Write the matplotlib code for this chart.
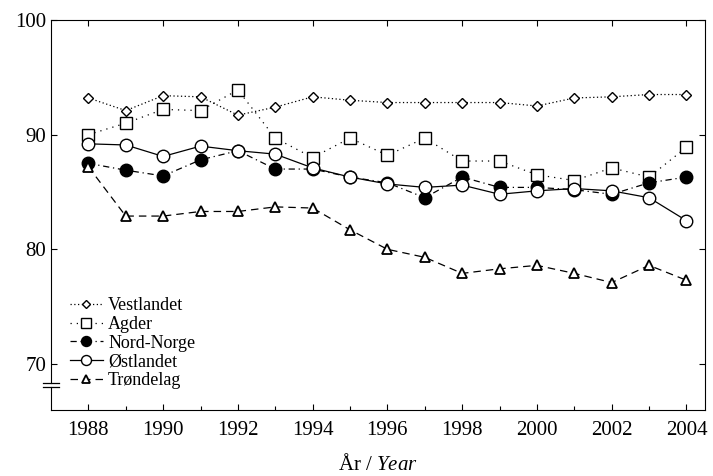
import matplotlib
matplotlib.use("Agg")
import matplotlib.pyplot as plt

years = list(range(1988, 2005))
vestlandet = [93.2, 92.1, 93.4, 93.3, 91.7, 92.4, 93.3, 93.0, 92.8, 92.8, 92.8, 92.8, 92.5, 93.2, 93.3, 93.5, 93.5]
agder = [90.0, 91.0, 92.2, 92.1, 93.9, 89.7, 88.0, 89.7, 88.2, 89.7, 87.7, 87.7, 86.5, 86.0, 87.1, 86.3, 88.9]
nord_norge = [87.5, 86.9, 86.4, 87.8, 88.6, 87.0, 87.0, 86.3, 85.8, 84.5, 86.3, 85.4, 85.4, 85.2, 84.8, 85.8, 86.3]
ostlandet = [89.2, 89.1, 88.1, 89.0, 88.6, 88.3, 87.1, 86.3, 85.7, 85.4, 85.6, 84.8, 85.1, 85.3, 85.1, 84.5, 82.5]
trondelag = [87.2, 82.9, 82.9, 83.3, 83.3, 83.7, 83.6, 81.7, 80.0, 79.3, 77.9, 78.3, 78.6, 77.9, 77.1, 78.6, 77.3]

plt.rcParams['font.family'] = ['Liberation Serif', 'DejaVu Serif']
plt.rcParams['mathtext.fontset'] = 'custom'
plt.rcParams['mathtext.it'] = 'Liberation Serif:italic'
plt.rcParams['mathtext.rm'] = 'Liberation Serif'

fig = plt.figure(figsize=(7.13, 4.76), dpi=100)
ax = fig.add_axes([0.0715, 0.139, 0.9175, 0.819])

ax.plot(years, vestlandet, color='black', lw=0.9, ls=(0, (1, 2)), marker='D', ms=5,
        mfc='white', mec='black', mew=1.0, label='Vestlandet')
ax.plot(years, agder, color='black', lw=0.9, ls=(0, (1, 4)), marker='s', ms=9,
        mfc='white', mec='black', mew=1.0, label='Agder')
ax.plot(years, nord_norge, color='black', lw=0.9, ls=(0, (5, 3, 1, 3)), marker='o', ms=9,
        mfc='black', mec='black', label='Nord-Norge')
ax.plot(years, ostlandet, color='black', lw=0.9, ls='-', marker='o', ms=9,
        mfc='white', mec='black', mew=1.0, label='Østlandet')
ax.plot(years, trondelag, color='black', lw=0.9, ls=(0, (6, 4)), marker='^', ms=7,
        mfc='white', mec='black', mew=1.3, label='Trøndelag')

ax.set_xlim(1987, 2004.5)
ax.set_ylim(66, 100)
ax.set_xticks(range(1988, 2005, 2))
ax.set_xticks(range(1989, 2005, 2), minor=True)
ax.set_yticks([70, 80, 90, 100])
ax.tick_params(axis='both', direction='in', labelsize=15, top=True, right=True, length=4, width=0.8)
ax.tick_params(axis='x', which='minor', direction='in', top=False, length=3, width=0.8)
ax.tick_params(axis='x', pad=8)

# broken y axis at the bottom
ax.spines['left'].set_bounds(68.35, 100)
ax.plot([0, 0], [66, 67.95], color='black', lw=0.8, transform=ax.get_yaxis_transform(), clip_on=False)
for yb in (67.95, 68.35):
    ax.plot([-0.012, 0.012], [yb, yb], color='black', lw=0.9,
            transform=ax.get_yaxis_transform(), clip_on=False)
for s in ax.spines.values():
    s.set_linewidth(0.8)

ax.set_xlabel(r'År / $\mathit{Year}$', fontsize=15, labelpad=10)

ax.legend(loc='lower left', bbox_to_anchor=(0.01, 0.02), frameon=False, fontsize=13,
          handlelength=1.8, handletextpad=0.3, labelspacing=0.1, borderaxespad=0.3,
          markerscale=0.8)

fig.savefig('out.png', dpi=100)
